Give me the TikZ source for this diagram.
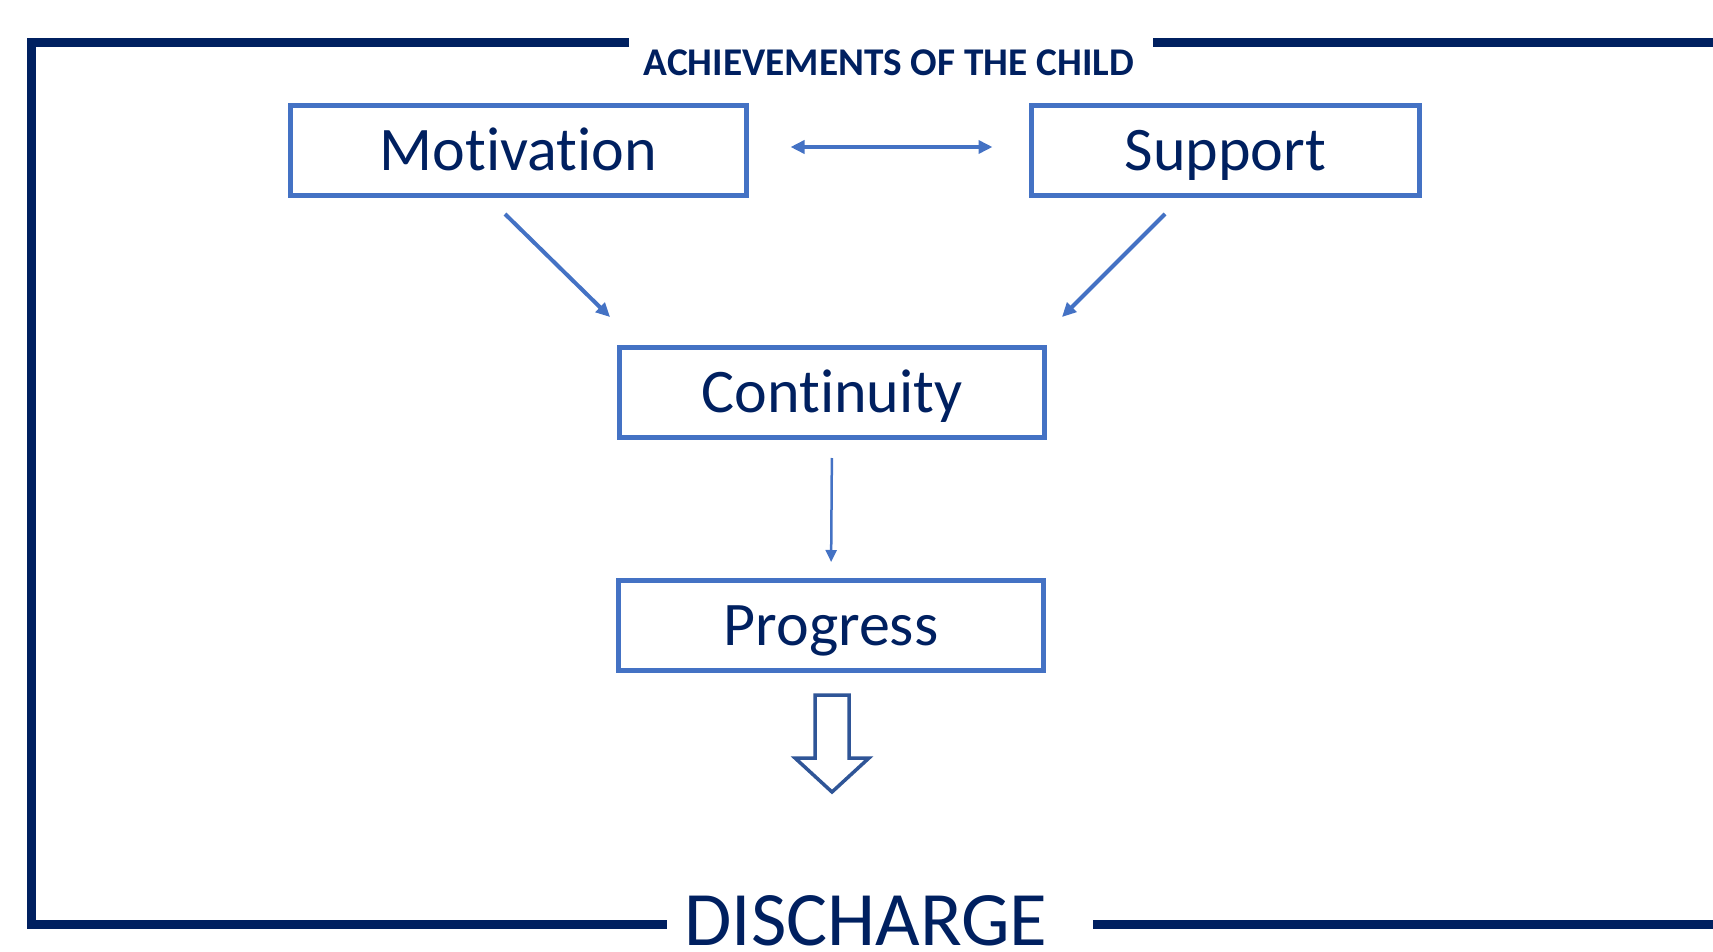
\documentclass[tikz,border=0pt]{standalone}
\usepackage{fontspec}
\setmainfont{Carlito}[Ligatures={NoCommon,NoContextual,NoRequired}]
\usepackage{tikz}
\usetikzlibrary{arrows.meta}
\definecolor{navy}{HTML}{002060}
\definecolor{boxblue}{HTML}{4472C4}
\definecolor{arrowblue}{HTML}{2F5597}

\begin{document}
\begin{tikzpicture}[
    x=1pt, y=-1pt,
    stage/.style = {
        draw=boxblue,
        line width=5pt,
        rectangle,
        inner sep=0pt,
        text=navy,
        font=\fontsize{62}{70}\selectfont,
        text height=40pt,
        text depth=0pt,
        minimum height=90pt,
        minimum width=#1
    },
    frame/.style = {
        line width=9pt,
        navy
    },
    heading/.style = {
        inner sep=0pt,
        text=navy,
        font=\fontsize{39.3}{44}\selectfont\bfseries,
        text height=26pt,
        text depth=0pt
    },
    outcome/.style = {
        inner sep=0pt,
        text=navy,
        font=\fontsize{77}{84}\selectfont,
        text height=50pt,
        text depth=0pt
    },
    link/.style = {line width=4pt, boxblue, -{Triangle[length=14pt,width=13pt]}},
    twoway/.style = {line width=4pt, boxblue, {Triangle[length=14pt,width=13pt]}-{Triangle[length=14pt,width=13pt]}},
    thinlink/.style = {line width=2.5pt, boxblue, -{Triangle[length=12pt,width=11pt]}},
    block/.style = {line width=3.5pt, arrowblue, fill=white, line join=miter}
]
    \useasboundingbox (0,0) rectangle (1713,952);

    % Draw the frame
    \draw[frame] (629,43) -- (31,43) -- (31,924.5) -- (667,924.5);
    \draw[frame] (1153,43) -- (1713,43);
    \draw[frame] (1093,924.5) -- (1713,924.5);
    \node[heading] (head) at (889,63) {ACHIEVEMENTS OF THE CHILD};
    \node[outcome] (discharge) at (866,920) {DISCHARGE};

    % Draw all stages
    \node[stage=456pt] (mot) at (518.5,150.5) {Motivation};
    \node[stage=388pt] (sup) at (1225.5,150.5) {Support};
    \node[stage=425pt] (cont) at (832,392) {Continuity};
    \node[stage=425pt] (prog) at (831,625) {Progress};

    \coordinate (mot-out) at (505,214);
    \coordinate (cont-inl) at (610,317);
    \coordinate (sup-out) at (1165,214);
    \coordinate (cont-inr) at (1062,317);
    \coordinate (tail) at (832,695);

    \draw[twoway, shorten <=41.5pt, shorten >=36.5pt] ([yshift=3.5pt]mot.east) -- ([yshift=3.5pt]sup.west);
    \draw[link] (mot-out) -- (cont-inl);
    \draw[link] (sup-out) -- (cont-inr);
    \draw[thinlink, shorten <=18.5pt, shorten >=15.5pt] (cont.south) -- (prog.north);

    % block arrow down to discharge
    \draw[block] (tail) ++(-17,0) -- ++(34,0) -- ++(0,63) -- ++(20,0) -- ++(-37,34) -- ++(-37,-34) -- ++(20,0) -- cycle;

\end{tikzpicture}
\end{document}
